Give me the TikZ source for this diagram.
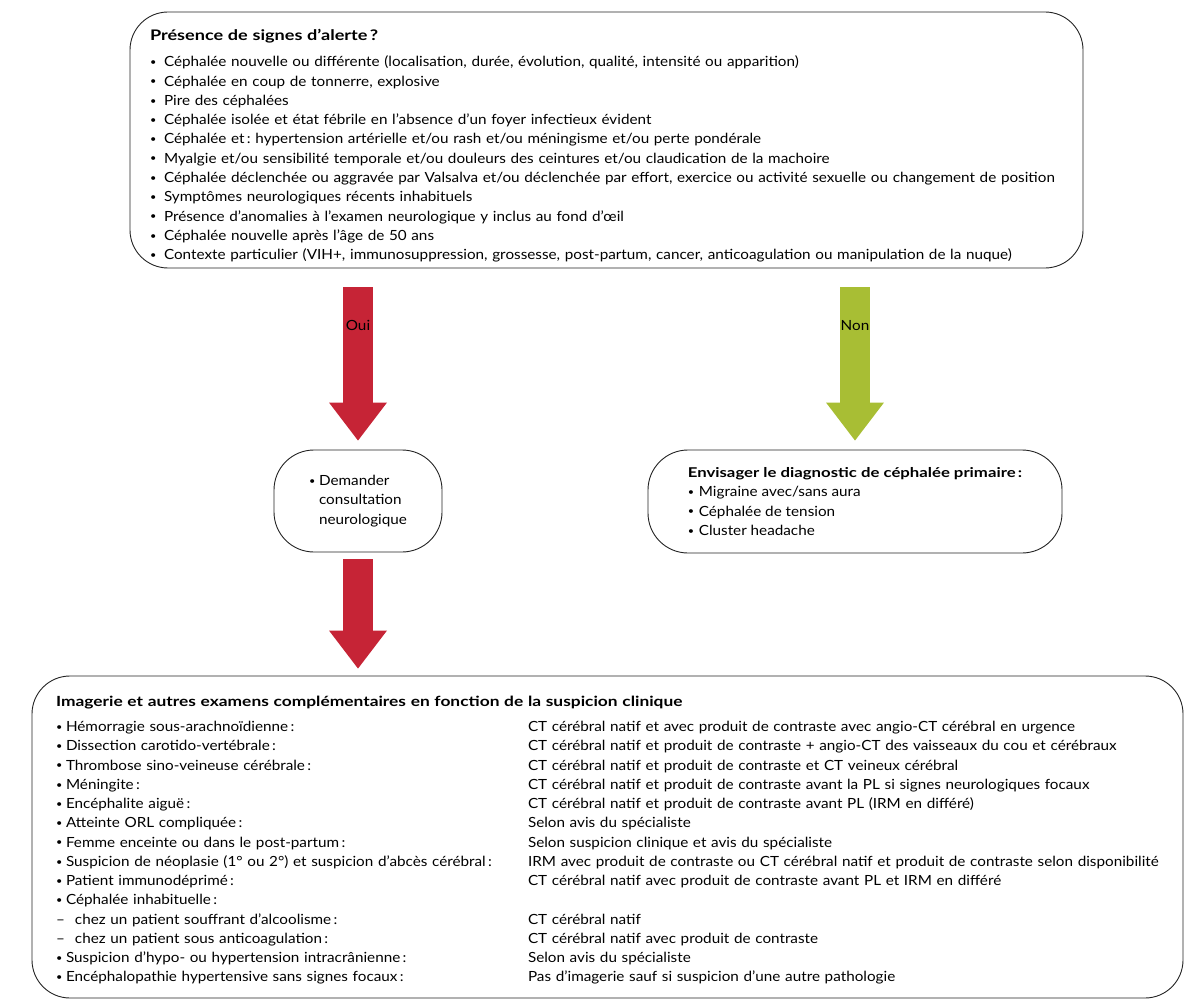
\documentclass[tikz,border=0pt]{standalone}
\usepackage{fontspec}
\setmainfont{Lato}[FakeStretch=1.09, BoldFeatures={FakeStretch=1.24}]
\usetikzlibrary{arrows.meta, positioning}
\definecolor{alertRed}{RGB}{198,36,54}
\definecolor{primGreen}{RGB}{168,190,52}
\definecolor{boxLine}{RGB}{35,35,35}
\newcommand{\listfont}{\fontsize{14}{19.3}\selectfont\frenchspacing}
\newcommand{\itm}[1][10pt]{\makebox[#1][l]{\raisebox{1.3pt}{\fontsize{10}{10}\selectfont\textbullet}}}
\newcommand{\tiret}{\makebox[19pt][l]{–}}

\begin{document}
\begin{tikzpicture}[
        x=1pt, y=-1pt,
        box/.style={draw=boxLine, line width=0.9pt, rounded corners=38pt, align=left, font=\listfont, inner sep=0pt},
        fat/.style={line width=30pt, -{Triangle[length=38pt, width=58pt, line width=0pt]}},
        lbl/.style={font=\listfont, text=black}
    ]
        \useasboundingbox (0,0) rectangle (1198,1008);

        % Warning signs
        \node[box, text width=913pt, inner xsep=20pt, minimum height=256pt] (alerte) at (606.5,140) {%
            \rule{0pt}{23pt}{\fontsize{14.6}{19.3}\selectfont\textbf{Présence de signes d’alerte\,?}}\\[6.7pt]
            \itm[14pt]Céphalée nouvelle ou différente (localisation, durée, évolution, qualité, intensité ou apparition)\\
            \itm[14pt]Céphalée en coup de tonnerre, explosive\\
            \itm[14pt]Pire des céphalées\\
            \itm[14pt]Céphalée isolée et état fébrile en l’absence d’un foyer infectieux évident\\
            \itm[14pt]Céphalée et\,: hypertension artérielle et/ou rash et/ou méningisme et/ou perte pondérale\\
            \itm[14pt]Myalgie et/ou sensibilité temporale et/ou douleurs des ceintures et/ou claudication de la machoire\\
            \itm[14pt]Céphalée déclenchée ou aggravée par Valsalva et/ou déclenchée par effort, exercice ou activité sexuelle ou changement de position\\
            \itm[14pt]Symptômes neurologiques récents inhabituels\\
            \itm[14pt]Présence d’anomalies à l’examen neurologique y inclus au fond d’œil\\
            \itm[14pt]Céphalée nouvelle après l’âge de 50 ans\\
            \itm[14pt]Contexte particulier (VIH+, immunosuppression, grossesse, post-partum, cancer, anticoagulation ou manipulation de la nuque)};

        % Answers
        \node[box, minimum width=168pt, minimum height=102pt, rounded corners=40pt] (demander) at (358,501) {%
            \itm Demander\\\hspace*{10pt}consultation\\\hspace*{10pt}neurologique};
        \node[box, minimum width=414pt, minimum height=103pt, rounded corners=40pt] (primaire) at (855,501.5) {%
            {\fontsize{13.5}{19.3}\selectfont\textbf{Envisager le diagnostic de céphalée primaire\,:}}\\
            \itm[11pt]Migraine avec/sans aura\\
            \itm[11pt]Céphalée de tension\\
            \itm[11pt]Cluster headache};

        % Examinations
        \node[box, text width=1103pt, inner xsep=24pt, minimum height=322pt, font=\fontsize{14}{19.25}\selectfont\frenchspacing] (imagerie) at (607.5,837) {%
            \rule{0pt}{20pt}\textbf{Imagerie et autres examens complémentaires en fonction de la suspicion clinique}\\[6pt]
            \begin{tabular}[t]{@{}p{472pt}@{}l@{}}
                \itm Hémorragie sous-arachnoïdienne\,: & CT cérébral natif et avec produit de contraste avec angio-CT cérébral en urgence\\
                \itm Dissection carotido-vertébrale\,: & CT cérébral natif et produit de contraste + angio-CT des vaisseaux du cou et cérébraux\\
                \itm Thrombose sino-veineuse cérébrale\,: & CT cérébral natif et produit de contraste et CT veineux cérébral\\
                \itm Méningite\,: & CT cérébral natif et produit de contraste avant la PL si signes neurologiques focaux\\
                \itm Encéphalite aiguë\,: & CT cérébral natif et produit de contraste avant PL (IRM en différé)\\
                \itm Atteinte ORL compliquée\,: & Selon avis du spécialiste\\
                \itm Femme enceinte ou dans le post-partum\,: & Selon suspicion clinique et avis du spécialiste\\
                \itm Suspicion de néoplasie (1° ou 2°) et suspicion d’abcès cérébral\,: & IRM avec produit de contraste ou CT cérébral natif et produit de contraste selon disponibilité\\
                \itm Patient immunodéprimé\,: & CT cérébral natif avec produit de contraste avant PL et IRM en différé\\
                \itm Céphalée inhabituelle\,: & \\
                \tiret chez un patient souffrant d’alcoolisme\,: & CT cérébral natif\\
                \tiret chez un patient sous anticoagulation\,: & CT cérébral natif avec produit de contraste\\
                \itm Suspicion d’hypo- ou hypertension intracrânienne\,: & Selon avis du spécialiste\\
                \itm Encéphalopathie hypertensive sans signes focaux\,: & Pas d’imagerie sauf si suspicion d’une autre pathologie
            \end{tabular}};

        \draw[fat, alertRed, shorten <=19pt, shorten >=9pt] (alerte.south -| demander.north) -- (demander.north) node[lbl, pos=0.313] {Oui};
        \draw[fat, primGreen, shorten <=19pt, shorten >=9pt] (alerte.south -| primaire.north) -- (primaire.north) node[lbl, pos=0.313] {Non};
        \draw[fat, alertRed, shorten <=7pt, shorten >=7pt] (demander.south) -- (demander.south |- imagerie.north);
    \end{tikzpicture}
\end{document}
